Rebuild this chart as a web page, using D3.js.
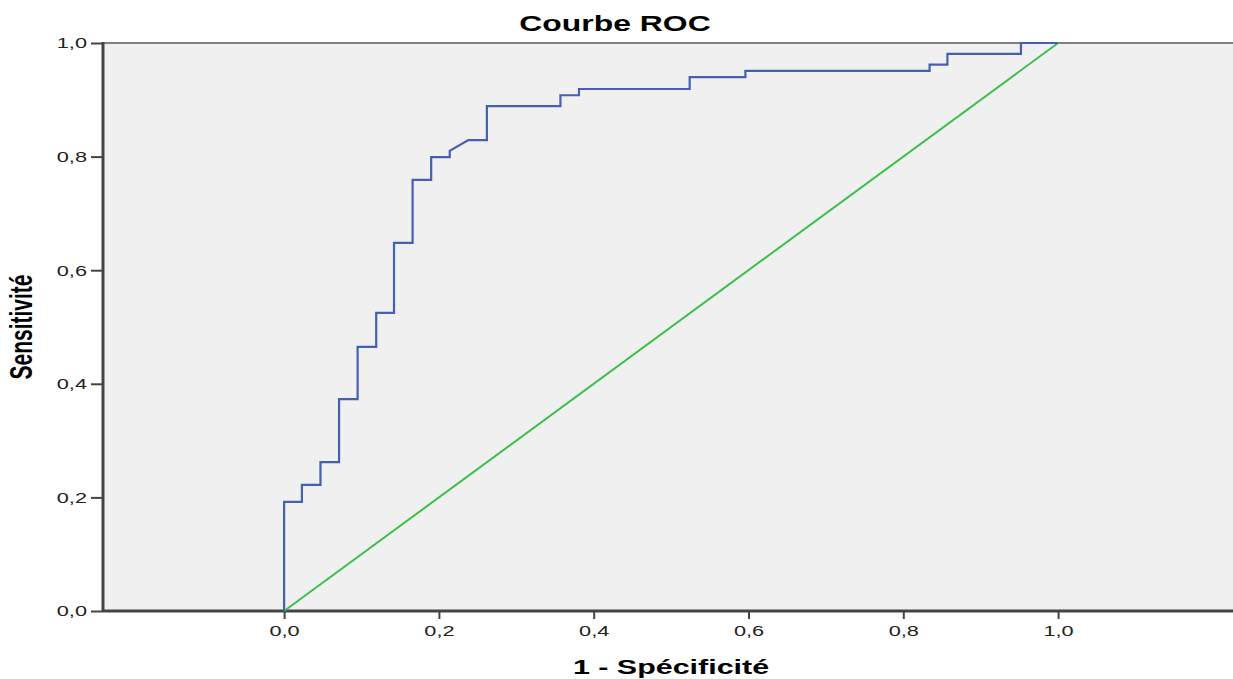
<!DOCTYPE html>
<html>
<head>
<meta charset="utf-8">
<script src="https://cdn.jsdelivr.net/npm/d3@7"></script>
<style>
  body { margin: 0; background: #fff; }
  text { font-family: "Liberation Sans", Arial, sans-serif; fill: #222; }
  .title, .axlabel { font-weight: bold; fill: #000; }
</style>
</head>
<body>
<div id="chart"></div>
<script>
// ROC curve vertices (1 - specificite, sensitivite)
var fpr = [0, 0, 0.023, 0.023, 0.047, 0.047, 0.071, 0.071, 0.095, 0.095,
           0.119, 0.119, 0.142, 0.142, 0.166, 0.166, 0.190, 0.190, 0.214, 0.214,
           0.238, 0.262, 0.262, 0.357, 0.357, 0.381, 0.381, 0.524, 0.524, 0.596,
           0.596, 0.834, 0.834, 0.857, 0.857, 0.952, 0.952, 1.0];
var tpr = [0, 0.192, 0.192, 0.222, 0.222, 0.262, 0.262, 0.373, 0.373, 0.465,
           0.465, 0.525, 0.525, 0.648, 0.648, 0.759, 0.759, 0.799, 0.799, 0.810,
           0.829, 0.829, 0.889, 0.889, 0.908, 0.908, 0.919, 0.919, 0.940, 0.940,
           0.951, 0.951, 0.962, 0.962, 0.981, 0.981, 1.0, 1.0];
// reference line
var refX = [0, 1];
var refY = [0, 1];

var xTicks = [0, 0.2, 0.4, 0.6, 0.8, 1.0];
var yTicks = [0, 0.2, 0.4, 0.6, 0.8, 1.0];
var xDomain = [-0.234, 1.226];

var width = 1233, height = 679;
var margin = {top: 43, right: 0, bottom: 68, left: 103};
var stretch = 1.45; // the original picture is stretched sideways

var svg = d3.select("#chart").append("svg")
    .attr("width", width)
    .attr("height", height);

var x = d3.scaleLinear().domain(xDomain).range([margin.left, width - margin.right]);
var y = d3.scaleLinear().domain([0, 1]).range([height - margin.bottom, margin.top]);

var fmt = function(d) { return d3.format(".1f")(d).replace(".", ","); };

// plot background
svg.append("rect")
    .attr("x", margin.left)
    .attr("y", margin.top)
    .attr("width", width - margin.left - margin.right)
    .attr("height", height - margin.top - margin.bottom)
    .attr("fill", "#f0f0f0");

// top frame
svg.append("line")
    .attr("x1", margin.left).attr("x2", width)
    .attr("y1", y(1)).attr("y2", y(1))
    .attr("stroke", "#808080").attr("stroke-width", 2);

// axes
var xAxis = svg.append("g")
    .attr("transform", "translate(0," + y(0) + ")")
    .call(d3.axisBottom(x).tickValues(xTicks).tickSize(8).tickPadding(6).tickFormat(fmt));

var yAxis = svg.append("g")
    .attr("transform", "translate(" + margin.left + ",0)")
    .call(d3.axisLeft(y).tickValues(yTicks).tickSize(12).tickPadding(4).tickFormat(fmt));

[xAxis, yAxis].forEach(function(g) {
  g.select(".domain").remove();
  g.selectAll(".tick line").attr("stroke", "#444").attr("stroke-width", 2);
  g.selectAll(".tick text")
      .style("font-size", "15px")
      .attr("fill", "#222");
});

// stretch tick labels sideways
xAxis.selectAll(".tick text").each(function() {
  var t = d3.select(this);
  t.attr("transform", "scale(" + stretch + ",1)");
});
yAxis.selectAll(".tick text").each(function() {
  var t = d3.select(this);
  var tx = +t.attr("x");
  t.attr("x", tx / stretch).attr("transform", "scale(" + stretch + ",1)");
});

// axis lines
svg.append("line")
    .attr("x1", margin.left).attr("x2", width)
    .attr("y1", y(0)).attr("y2", y(0))
    .attr("stroke", "#444").attr("stroke-width", 3);
svg.append("line")
    .attr("x1", margin.left).attr("x2", margin.left)
    .attr("y1", y(1) - 1).attr("y2", y(0) + 1)
    .attr("stroke", "#444").attr("stroke-width", 3);

var line = d3.line()
    .x(function(d) { return x(d[0]); })
    .y(function(d) { return y(d[1]); });

// reference diagonal
svg.append("path")
    .datum(d3.zip(refX, refY))
    .attr("d", line)
    .attr("fill", "none")
    .attr("stroke", "#3cbf4c")
    .attr("stroke-width", 2);

// ROC curve
svg.append("path")
    .datum(d3.zip(fpr, tpr))
    .attr("d", line)
    .attr("fill", "none")
    .attr("stroke", "#4560b0")
    .attr("stroke-width", 2.2);

// title
svg.append("text")
    .attr("class", "title")
    .attr("text-anchor", "middle")
    .attr("transform", "translate(615,31) scale(" + stretch + ",1)")
    .style("font-size", "22px")
    .text("Courbe ROC");

// x axis label
svg.append("text")
    .attr("class", "axlabel")
    .attr("text-anchor", "middle")
    .attr("transform", "translate(671,674) scale(" + stretch + ",1)")
    .style("font-size", "21px")
    .text("1 - Sp\u00e9cificit\u00e9");

// y axis label
svg.append("text")
    .attr("class", "axlabel")
    .attr("text-anchor", "middle")
    .attr("transform", "translate(32,327) rotate(-90) scale(1," + stretch + ")")
    .style("font-size", "21px")
    .text("Sensitivit\u00e9");
</script>
</body>
</html>
